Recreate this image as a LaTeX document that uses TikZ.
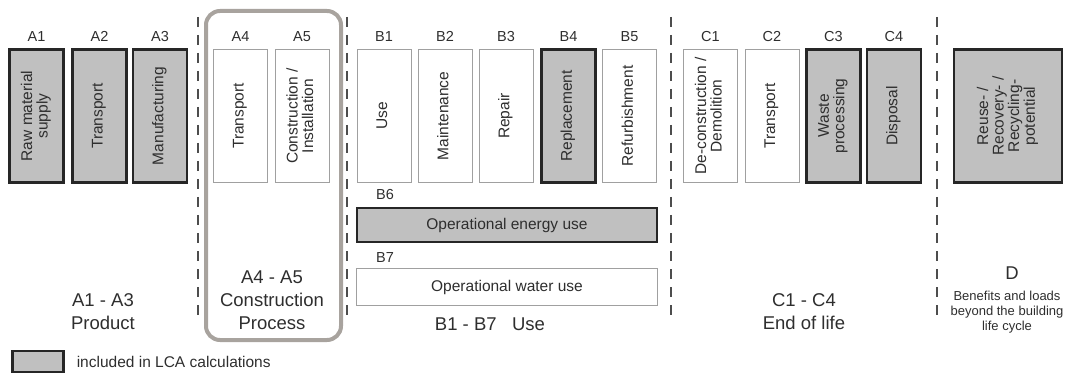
\documentclass[tikz,border=0pt]{standalone}
\usepackage{fontspec}
\setmainfont{Liberation Sans}
\usepackage{graphicx}
\usepackage{xcolor}
\usetikzlibrary{positioning}

\definecolor{incfill}{HTML}{C0C0C0}
\definecolor{incline}{HTML}{262626}
\definecolor{exline}{HTML}{A0A0A0}
\definecolor{procline}{HTML}{A8A39E}
\definecolor{sepline}{HTML}{4D4D4D}
\definecolor{txt}{HTML}{2E2E2E}

\newcommand{\vlabel}[1]{\rotatebox{90}{\renewcommand{\arraystretch}{0.85}\begin{tabular}{@{}c@{}}#1\end{tabular}}}

\tikzset{
  module/.style={minimum width=54pt, minimum height=133pt, inner sep=0pt,
    font=\fontsize{15.5}{17}\selectfont, text=txt},
  incl/.style={module, fill=incfill, draw=incline, line width=2.2pt},
  excl/.style={module, fill=white, draw=exline, line width=0.9pt},
  code/.style={font=\fontsize{14.5}{16}\selectfont, text=txt, inner sep=1pt},
  stage/.style={font=\fontsize{18.5}{23}\selectfont, text=txt, align=center},
  note/.style={font=\fontsize{13}{15}\selectfont, text=txt, align=center},
  sep/.style={draw=sepline, line width=1.5pt, dash pattern=on 10pt off 8pt},
}

\begin{document}
\begin{tikzpicture}[x=1pt, y=-1pt]
    \useasboundingbox (0,0) rectangle (1065,374);

    % Construction process frame
    \draw[procline, line width=4pt, rounded corners=14pt] (206,11) rectangle (341,340);

    % Stage separators
    \draw[sep] (198,17) -- (198,318);
    \draw[sep] (347,17) -- (347,318);
    \draw[sep] (671,17) -- (671,318);
    \draw[sep] (937,17) -- (937,318);

    % Product stage
    \node[incl] (a1) at (36.5,116) {\vlabel{Raw material\\supply}};
    \node[incl] (a2) at (99.5,116) {\vlabel{Transport}};
    \node[incl] (a3) at (160,116) {\vlabel{Manufacturing}};
    \node[code, above=6pt of a1] (a1c) {A1};
    \node[code, above=6pt of a2] (a2c) {A2};
    \node[code, above=6pt of a3] (a3c) {A3};
    \node[stage] (prod) at (103,312) {A1 - A3\\Product};

    % Construction process stage
    \node[excl] (a4) at (240.5,116) {\vlabel{Transport}};
    \node[excl] (a5) at (302,116) {\vlabel{Construction /\\Installation}};
    \node[code, above=6pt of a4] (a4c) {A4};
    \node[code, above=6pt of a5] (a5c) {A5};
    \node[stage] (constr) at (272,300) {A4 - A5\\Construction\\Process};

    % Use stage
    \node[excl] (b1) at (384,116) {\vlabel{Use}};
    \node[excl] (b2) at (445,116) {\vlabel{Maintenance}};
    \node[excl] (b3) at (506,116) {\vlabel{Repair}};
    \node[incl] (b4) at (568.5,116) {\vlabel{Replacement}};
    \node[excl] (b5) at (629.5,116) {\vlabel{Refurbishment}};
    \node[code, above=6pt of b1] (b1c) {B1};
    \node[code, above=6pt of b2] (b2c) {B2};
    \node[code, above=6pt of b3] (b3c) {B3};
    \node[code, above=6pt of b4] (b4c) {B4};
    \node[code, above=6pt of b5] (b5c) {B5};
    \node[incl, minimum width=300pt, minimum height=34pt] (b6) at (507,225) {Operational energy use};
    \node[excl, minimum width=301pt, minimum height=37pt] (b7) at (507,287) {Operational water use};
    \node[code] (b6c) at (385,195) {B6};
    \node[code] (b7c) at (385,258) {B7};
    \node[stage] (use) at (490,324) {B1 - B7\ \ \ Use};

    % End of life stage
    \node[excl] (c1) at (710.5,116) {\vlabel{De-construction /\\Demolition}};
    \node[excl] (c2) at (772,116) {\vlabel{Transport}};
    \node[incl] (c3) at (833.5,116) {\vlabel{Waste\\processing}};
    \node[incl] (c4) at (894,116) {\vlabel{Disposal}};
    \node[code, above=6pt of c1] (c1c) {C1};
    \node[code, above=6pt of c2] (c2c) {C2};
    \node[code, above=6pt of c3] (c3c) {C3};
    \node[code, above=6pt of c4] (c4c) {C4};
    \node[stage] (eol) at (804,312) {C1 - C4\\End of life};

    % Beyond the life cycle
    \node[incl, minimum width=108pt] (d) at (1008,116) {\vlabel{Reuse- /\\Recovery- /\\Recycling-\\potential}};
    \node[stage] (dmod) at (1012,273) {D};
    \node[note] (dnote) at (1007,312) {Benefits and loads\\beyond the building\\life cycle};

    % Legend
    \node[incl, minimum width=51pt, minimum height=21pt] (leg) at (38,361.5) {};
    \node[code, font=\fontsize{15.5}{17}\selectfont, right=11pt of leg] (legtext) {included in LCA calculations};
\end{tikzpicture}
\end{document}
